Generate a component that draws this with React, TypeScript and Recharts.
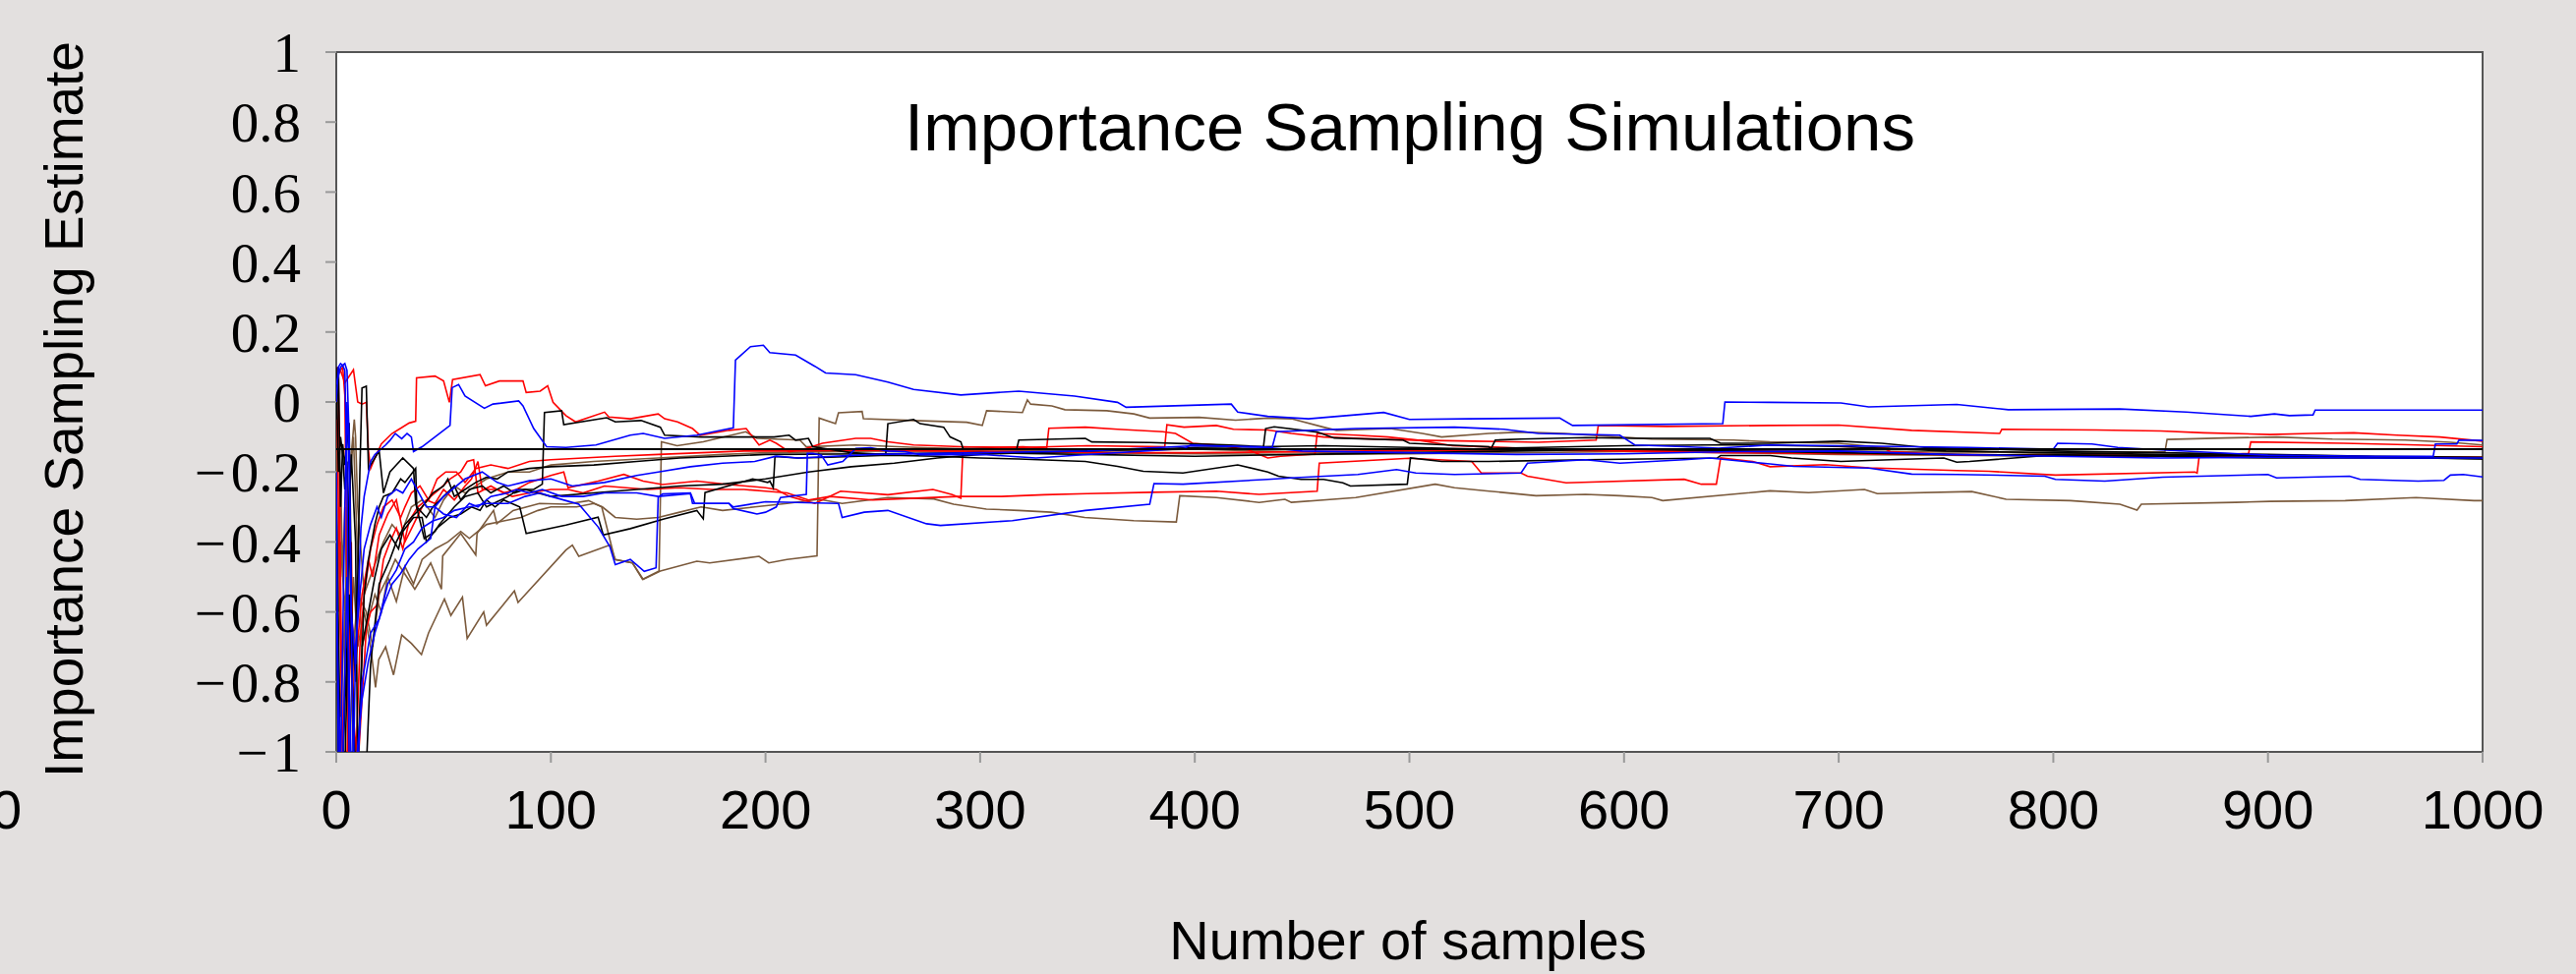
import { LineChart, Line, XAxis, YAxis, ReferenceLine } from 'recharts';

type Pt = [number, number];

const X_TICKS = [0, 100, 200, 300, 400, 500, 600, 700, 800, 900, 1000];
const Y_TICKS = [-1, -0.8, -0.6, -0.4, -0.2, 0, 0.2, 0.4, 0.6, 0.8, 1];
const TRUE_VALUE = -0.135;

const BLUE = '#0000ff';
const RED = '#ff0000';
const BLACK = '#000000';
const BROWN = '#7b5a3c';

// one array per simulation run: [sample count, running estimate]
const blueRun1: Pt[] = [
  [0, 0.05], [2, 0.1], [4, 0.11], [5, 0.09], [6, -0.1], [7, -0.6], [9, -0.75], [11.5, -0.36], [13, -0.27],
  [14.5, -0.22], [16, -0.17], [18, -0.15], [23, -0.123], [25, -0.11], [27.5, -0.09], [30.5, -0.105], [33, -0.09],
  [35, -0.1], [36, -0.142], [40, -0.128], [53, -0.067], [54, 0.041], [57, 0.05], [60, 0.017], [69, -0.018],
  [73, -0.006], [85, 0.003], [87, -0.011], [92, -0.076], [98, -0.128], [107, -0.13], [121, -0.123], [137, -0.095],
  [143, -0.09], [153, -0.104], [168, -0.095], [185, -0.074], [186, 0.12], [193, 0.158], [199, 0.162], [202, 0.141],
  [214, 0.134], [223, 0.102], [228, 0.083], [242, 0.078], [257, 0.057], [269, 0.036], [291, 0.02], [318, 0.031],
  [344, 0.017], [364, -0.001], [368, -0.015], [417, -0.006], [420, -0.029], [434, -0.041], [453, -0.048],
  [480, -0.034], [488, -0.03], [500, -0.05], [527, -0.048], [570, -0.046], [576, -0.067], [646, -0.062],
  [647, 0.0], [668, -0.001], [701, -0.003], [714, -0.014], [755, -0.007], [779, -0.022], [831, -0.02],
  [862, -0.029], [892, -0.041], [903, -0.034], [910, -0.039], [921, -0.037], [922, -0.023], [1000, -0.023],
];

const blueRun2: Pt[] = [
  [0, -0.6], [2, -1.05], [4, -0.3], [5, 0.0], [6, -0.2], [8, -1.05], [10, -1.05], [12, -0.8], [16, -0.66],
  [20, -0.62], [24, -0.52], [28, -0.48], [32, -0.42], [36, -0.4], [40, -0.36], [45, -0.34], [50, -0.33],
  [55, -0.31], [62, -0.3], [70, -0.29], [80, -0.29], [88, -0.27], [95, -0.26], [100, -0.27], [107, -0.282],
  [113, -0.292], [122, -0.357], [127.5, -0.414], [130, -0.465], [137, -0.45], [143.5, -0.484], [149, -0.474],
  [150, -0.273], [152, -0.263], [165, -0.26], [167, -0.29], [183, -0.29], [185, -0.305], [196, -0.32],
  [200, -0.315], [205, -0.3], [207, -0.273], [219, -0.264], [219.5, -0.147], [222, -0.147], [226, -0.152],
  [229, -0.18], [236, -0.17], [242, -0.133], [249, -0.131], [257, -0.14], [265, -0.142], [272, -0.151],
  [303, -0.151], [326, -0.16], [348, -0.151], [395, -0.133], [398, -0.123], [434, -0.13], [436, -0.131],
  [438, -0.085], [475, -0.076], [521, -0.072], [544, -0.078], [560, -0.09], [598, -0.095], [605, -0.123],
  [628, -0.128], [644, -0.132], [668, -0.123], [700, -0.125], [760, -0.13], [800, -0.135], [802, -0.118],
  [818, -0.12], [830, -0.13], [850, -0.137], [900, -0.152], [950, -0.155], [977, -0.155], [978, -0.12],
  [988, -0.12], [989, -0.109], [1000, -0.11],
];

const blueRun3: Pt[] = [
  [0, -0.2], [1, -1.05], [3, -1.05], [5, -0.5], [7, -1.05], [9, -1.05], [12, -0.85], [15, -0.74], [18, -0.66],
  [22, -0.58], [26, -0.52], [30, -0.49], [34, -0.45], [38, -0.42], [44, -0.39], [46, -0.3], [50, -0.32],
  [56, -0.33], [62, -0.29], [66, -0.3], [72, -0.27], [80, -0.26], [84, -0.25], [90, -0.26], [96, -0.25],
  [105, -0.27], [115, -0.27], [125, -0.26], [140, -0.26], [150, -0.27], [165, -0.262], [166, -0.29],
  [183, -0.29], [185, -0.3], [200, -0.285], [234, -0.29], [235.7, -0.33], [246, -0.315], [257, -0.31],
  [275, -0.348], [281.5, -0.353], [315, -0.339], [349, -0.31], [379, -0.292], [381, -0.233], [394.5, -0.235],
  [434, -0.221], [445, -0.217], [476, -0.207], [494, -0.193], [503, -0.203], [521, -0.207], [552, -0.203],
  [555, -0.175], [582, -0.165], [598, -0.175], [628, -0.165], [640, -0.16], [656, -0.17], [668, -0.177],
  [679, -0.184], [714, -0.189], [734, -0.206], [755, -0.207], [796, -0.212], [801, -0.221], [824, -0.226],
  [851, -0.215], [900, -0.207], [904, -0.217], [938, -0.212], [943, -0.221], [970, -0.226], [982, -0.224],
  [985, -0.209], [991, -0.207], [1000, -0.214],
];

const blueRun4: Pt[] = [
  [0, 0.0], [1, 0.1], [2, 0.11], [3, 0.105], [4, 0.09], [5, -0.2], [6, -1.05], [8, -1.05], [9, -0.7],
  [11, -0.55], [13, -0.42], [16, -0.35], [19, -0.3], [21, -0.33], [24, -0.27], [28, -0.25], [31, -0.26],
  [35, -0.22], [42, -0.3], [46, -0.3], [50, -0.27], [60, -0.22], [68, -0.2], [75, -0.23], [80, -0.24],
  [90, -0.225], [100, -0.22], [110, -0.24], [125, -0.23], [140, -0.21], [150, -0.2], [165, -0.185],
  [180, -0.175], [195, -0.17], [205, -0.155], [215, -0.16], [250, -0.15], [300, -0.145], [350, -0.14],
  [400, -0.125], [430, -0.128], [450, -0.14], [500, -0.145], [550, -0.15], [600, -0.148], [650, -0.142],
  [700, -0.14], [750, -0.15], [800, -0.155], [850, -0.16], [900, -0.158], [950, -0.16], [1000, -0.16],
];

const redRun1: Pt[] = [
  [0, 0.08], [2, 0.09], [4, 0.055], [8, 0.092], [10, 0.0], [12, -0.006], [14, -0.001], [15, -0.14],
  [16, -0.19], [18, -0.16], [21, -0.12], [26, -0.09], [30, -0.075], [34, -0.06], [37, -0.055], [37.4, 0.069],
  [46, 0.074], [50, 0.06], [52.7, -0.001], [54.2, 0.064], [67, 0.078], [69.5, 0.046], [76, 0.06], [87, 0.06],
  [88.5, 0.027], [95, 0.031], [98.5, 0.046], [101, -0.001], [107, -0.039], [111.5, -0.057], [125, -0.029],
  [127, -0.043], [137, -0.048], [150, -0.034], [153, -0.048], [159, -0.057], [166, -0.076], [169.5, -0.095],
  [183, -0.081], [191, -0.076], [197, -0.123], [202, -0.109], [205, -0.118], [211, -0.142], [219, -0.133],
  [226.5, -0.118], [242, -0.104], [249, -0.104], [257, -0.114], [269, -0.123], [291, -0.128], [320, -0.13],
  [350, -0.125], [386, -0.128], [387, -0.065], [395, -0.072], [410, -0.067], [418, -0.078], [434, -0.08],
  [445, -0.09], [460, -0.1], [488, -0.107], [510, -0.11], [530, -0.112], [560, -0.115], [587, -0.109],
  [588, -0.067], [620, -0.07], [668, -0.067], [700, -0.066], [734, -0.081], [775, -0.09], [776, -0.078],
  [820, -0.08], [850, -0.083], [870, -0.088], [901, -0.093], [920, -0.09], [940, -0.088], [960, -0.095],
  [980, -0.1], [1000, -0.112],
];

const redRun2: Pt[] = [
  [0, 0.1], [1, -0.3], [3, -1.05], [5, -1.05], [7, -0.6], [9, -0.75], [12, -0.55], [15, -0.45], [17, -0.5],
  [20, -0.38], [24, -0.32], [28, -0.28], [32, -0.4], [36, -0.35], [40, -0.3], [44, -0.27], [48, -0.25],
  [53, -0.22], [58, -0.2], [61, -0.17], [64, -0.165], [66, -0.26], [72, -0.24], [78, -0.26], [84, -0.25],
  [90, -0.23], [100, -0.21], [106, -0.2], [108, -0.245], [122, -0.226], [134, -0.207], [143, -0.226],
  [152, -0.236], [168, -0.226], [183, -0.236], [200, -0.245], [205, -0.25], [211, -0.27], [223, -0.29],
  [235, -0.255], [257, -0.265], [278, -0.25], [287, -0.265], [291, -0.275], [292, -0.128], [305, -0.13],
  [320, -0.128], [331, -0.132], [332, -0.075], [349, -0.072], [364, -0.078], [385, -0.085], [391, -0.09],
  [399, -0.118], [410, -0.123], [425, -0.137], [434, -0.16], [440, -0.155], [456, -0.149], [457, -0.09],
  [475, -0.095], [490, -0.1], [505, -0.11], [520, -0.125], [545, -0.13], [570, -0.138], [600, -0.14],
  [650, -0.145], [700, -0.148], [750, -0.15], [800, -0.152], [850, -0.154], [900, -0.155], [950, -0.157],
  [1000, -0.158],
];

const redRun3: Pt[] = [
  [0, 0.05], [1, 0.1], [2, -0.5], [3, -1.05], [5, -1.05], [7, -0.4], [8, -0.9], [10, -1.05], [12, -0.85],
  [14, -0.65], [16, -0.6], [19, -0.58], [22, -0.45], [25, -0.4], [28, -0.36], [31, -0.42], [34, -0.34],
  [38, -0.3], [42, -0.28], [46, -0.29], [50, -0.25], [55, -0.28], [60, -0.24], [63, -0.22], [66, -0.17],
  [68, -0.25], [75, -0.25], [82, -0.27], [90, -0.26], [100, -0.25], [108, -0.25], [115, -0.26], [125, -0.24],
  [135, -0.245], [145, -0.25], [160, -0.245], [175, -0.25], [190, -0.25], [200, -0.255], [210, -0.26],
  [220, -0.28], [230, -0.27], [250, -0.28], [270, -0.275], [290, -0.27], [310, -0.27], [330, -0.265],
  [350, -0.262], [380, -0.258], [410, -0.255], [430, -0.264], [457, -0.255], [458, -0.175], [500, -0.161],
  [529, -0.17], [533.5, -0.203], [552, -0.203], [555, -0.212], [573, -0.231], [628, -0.221], [636, -0.235],
  [643, -0.235], [645, -0.16], [660, -0.17], [668, -0.185], [694, -0.179], [714, -0.188], [755, -0.196],
  [770, -0.198], [801, -0.209], [866, -0.2], [867, -0.203], [868, -0.153], [891, -0.147], [892, -0.114],
  [935, -0.118], [965, -0.122], [1000, -0.128],
];

const redRun4: Pt[] = [
  [0, 0.0], [1, 0.08], [3, 0.1], [4, 0.02], [5, -0.5], [6, -1.05], [9, -1.05], [11, -0.7], [13, -0.55],
  [16, -0.42], [19, -0.35], [22, -0.3], [26, -0.28], [30, -0.33], [32, -0.3], [35, -0.26], [39, -0.24],
  [43, -0.28], [47, -0.22], [51, -0.2], [56, -0.2], [60, -0.23], [65, -0.19], [72, -0.18], [80, -0.19],
  [90, -0.17], [100, -0.165], [115, -0.16], [130, -0.155], [150, -0.15], [170, -0.145], [190, -0.14],
  [210, -0.14], [240, -0.138], [280, -0.14], [320, -0.142], [360, -0.145], [400, -0.145], [440, -0.143],
  [480, -0.14], [520, -0.138], [560, -0.136], [600, -0.138], [663, -0.137], [721, -0.132], [724, -0.142],
  [755, -0.151], [800, -0.152], [850, -0.154], [900, -0.156], [950, -0.158], [1000, -0.16],
];

const blackRun1: Pt[] = [
  [0, 0.1], [1, -0.2], [2, -0.1], [3, -0.15], [4, -0.25], [5, -0.17], [7, -0.6], [9, -0.8], [11, -0.2],
  [12, 0.04], [14, 0.045], [15, -0.19], [18, -0.16], [20, -0.14], [22, -0.26], [25, -0.2], [28, -0.18],
  [31, -0.16], [36, -0.19], [37, -0.29], [41, -0.39], [46, -0.37], [48, -0.35], [55, -0.3], [60, -0.27],
  [66, -0.26], [70, -0.3], [80, -0.27], [85, -0.25], [92, -0.25], [96, -0.235], [97, -0.03], [105, -0.025],
  [106, -0.065], [126, -0.045], [130, -0.057], [142, -0.053], [151, -0.072], [153, -0.095], [170, -0.1],
  [200, -0.1], [204, -0.1], [211, -0.095], [214, -0.109], [220, -0.104], [222, -0.128], [240, -0.145],
  [256, -0.15], [257, -0.062], [269, -0.05], [272, -0.062], [283, -0.072], [286, -0.1], [291, -0.114],
  [292, -0.133], [317, -0.135], [318, -0.109], [349, -0.104], [352, -0.114], [379, -0.116], [395, -0.119],
  [417, -0.123], [432, -0.128], [433, -0.076], [437, -0.071], [457, -0.086], [465, -0.103], [497, -0.109],
  [500, -0.118], [518, -0.123], [537, -0.128], [538, -0.134], [540, -0.109], [552, -0.106], [582, -0.102],
  [605, -0.104], [640, -0.104], [645, -0.118], [668, -0.118], [700, -0.112], [720, -0.118], [740, -0.13],
  [800, -0.14], [850, -0.145], [900, -0.15], [950, -0.155], [1000, -0.158],
];

const blackRun2: Pt[] = [
  [0, -0.3], [2, -1.05], [4, -1.05], [6, -0.55], [8, -0.9], [9, -1.05], [10, -1.05], [12, -0.7], [15, -0.6],
  [18, -0.5], [21, -0.42], [25, -0.38], [29, -0.42], [31, -0.37], [36, -0.33], [40, -0.33], [42, -0.4],
  [47, -0.36], [53, -0.33], [58, -0.32], [63, -0.3], [67, -0.31], [70, -0.28], [74, -0.3], [78, -0.28],
  [85.5, -0.3], [88.5, -0.376], [107, -0.352], [122, -0.329], [124.4, -0.38], [137, -0.362], [152.7, -0.334],
  [168, -0.31], [171, -0.334], [171.8, -0.259], [194, -0.22], [201, -0.23], [202, -0.226], [203.6, -0.245],
  [204.4, -0.156], [215, -0.16], [230, -0.158], [257, -0.152], [280, -0.155], [300, -0.16], [318, -0.163],
  [349, -0.17], [364, -0.184], [376, -0.198], [394.5, -0.203], [420, -0.18], [434, -0.2], [439, -0.212],
  [449.5, -0.221], [460, -0.221], [469, -0.231], [472.5, -0.24], [499, -0.235], [500.5, -0.16], [515, -0.17],
  [537, -0.17], [582, -0.165], [643.5, -0.16], [645, -0.153], [668, -0.153], [678, -0.16], [701, -0.17],
  [724, -0.165], [749, -0.16], [755, -0.172], [761, -0.17], [801, -0.151], [831, -0.153], [901, -0.151],
  [950, -0.158], [1000, -0.162],
];

const blackRun3: Pt[] = [
  [0, -0.05], [1, 0.1], [2, -0.3], [3, -0.12], [4, -0.18], [5, -0.12], [6, -0.06], [7, -0.5], [8, -1.05],
  [10, -1.05], [11, -0.9], [13, -0.55], [15, -0.45], [18, -0.35], [20, -0.3], [22, -0.27], [26, -0.26],
  [30, -0.22], [32, -0.23], [37, -0.19], [37.5, -0.3], [42, -0.33], [45, -0.3], [50, -0.27], [55, -0.24],
  [58, -0.28], [62, -0.25], [68, -0.24], [72, -0.26], [78, -0.24], [83, -0.26], [88, -0.25], [100, -0.27],
  [120, -0.26], [140, -0.25], [160, -0.24], [180, -0.235], [200, -0.22], [220, -0.2], [240, -0.185],
  [260, -0.175], [280, -0.16], [300, -0.15], [320, -0.145], [350, -0.14], [380, -0.135], [400, -0.13],
  [430, -0.128], [460, -0.125], [500, -0.13], [530, -0.134], [560, -0.13], [600, -0.125], [650, -0.122],
  [700, -0.127], [750, -0.14], [800, -0.145], [850, -0.15], [900, -0.155], [950, -0.158], [1000, -0.163],
];

const blackRun4: Pt[] = [
  [0, -0.4], [1, -1.05], [3, -1.05], [5, -0.7], [6, -0.3], [7, -0.15], [9, -0.4], [10, -1.05], [14, -1.05],
  [16, -0.75], [20, -0.52], [25, -0.45], [28, -0.4], [32, -0.35], [35, -0.33], [40, -0.3], [45, -0.26],
  [50, -0.24], [52, -0.22], [55, -0.27], [60, -0.25], [65, -0.23], [70, -0.215], [75, -0.22], [80, -0.2],
  [90, -0.19], [100, -0.185], [120, -0.18], [140, -0.17], [160, -0.16], [180, -0.155], [200, -0.15],
  [250, -0.148], [300, -0.145], [350, -0.15], [400, -0.155], [450, -0.15], [500, -0.145], [550, -0.14],
  [600, -0.135], [650, -0.14], [700, -0.145], [750, -0.15], [800, -0.152], [850, -0.155], [900, -0.16],
  [950, -0.16], [1000, -0.16],
];

const brownRun1: Pt[] = [
  [0, -0.1], [1, -0.6], [2, -0.2], [3, -0.5], [4, -0.3], [5, -0.6], [6, -0.25], [8, -0.1], [10, -0.45],
  [12, -0.7], [15, -0.62], [18, -0.55], [21, -0.6], [24, -0.5], [27.5, -0.45], [36.6, -0.535], [44, -0.46],
  [49, -0.535], [49.6, -0.44], [58, -0.376], [65, -0.437], [65.6, -0.376], [73.3, -0.31], [74.8, -0.348],
  [82.4, -0.31], [94.7, -0.29], [107, -0.292], [117.6, -0.282], [123.7, -0.3], [129.8, -0.45], [138, -0.46],
  [142.7, -0.507], [150.4, -0.483], [151.5, -0.114], [158.8, -0.125], [171, -0.114], [190.8, -0.085],
  [196, -0.104], [216, -0.109], [219, -0.128], [242, -0.123], [270, -0.13], [300, -0.135], [330, -0.14],
  [360, -0.14], [400, -0.135], [430, -0.14], [470, -0.145], [500, -0.14], [550, -0.138], [600, -0.135],
  [650, -0.14], [700, -0.14], [750, -0.143], [800, -0.145], [852, -0.142], [853, -0.107], [880, -0.103],
  [904, -0.1], [930, -0.106], [964, -0.109], [985, -0.115], [1000, -0.123],
];

const brownRun2: Pt[] = [
  [0, -0.3], [1, -0.8], [2, -0.4], [4, -0.6], [6, -0.3], [7, -0.15], [8.4, -0.05], [9, -0.1], [10, -0.3],
  [13, -0.55], [17, -0.48], [22, -0.4], [26, -0.35], [30, -0.38], [35, -0.3], [40, -0.28], [46, -0.33],
  [50, -0.28], [55, -0.24], [60, -0.26], [70, -0.22], [80, -0.2], [90, -0.2], [100, -0.18], [120, -0.17],
  [150, -0.16], [180, -0.15], [200, -0.145], [250, -0.14], [300, -0.14], [350, -0.145], [400, -0.148],
  [450, -0.15], [500, -0.148], [550, -0.145], [600, -0.142], [650, -0.145], [700, -0.15], [750, -0.152],
  [800, -0.155], [850, -0.155], [900, -0.157], [950, -0.158], [1000, -0.16],
];

const brownRun3: Pt[] = [
  [0, -0.2], [1, -1.05], [3, -1.05], [5, -0.4], [6, -0.8], [8, -0.5], [10, -0.7], [13, -0.6], [16, -0.7],
  [18.3, -0.816], [19.8, -0.736], [23, -0.7], [26.7, -0.78], [30.5, -0.666], [35, -0.69], [39.7, -0.722],
  [43, -0.66], [50.4, -0.563], [53.4, -0.61], [58.8, -0.558], [61, -0.676], [68.7, -0.6], [70, -0.638],
  [83, -0.54], [84.7, -0.573], [107, -0.423], [110, -0.409], [113, -0.441], [127.5, -0.409], [130, -0.45],
  [138, -0.46], [143, -0.507], [151, -0.483], [168, -0.455], [174, -0.46], [197, -0.441], [201.5, -0.46],
  [210, -0.45], [224, -0.44], [225, -0.046], [232.6, -0.062], [234, -0.031], [245, -0.027], [245.6, -0.048],
  [269, -0.053], [293.7, -0.058], [301, -0.067], [303, -0.025], [319.7, -0.03], [322, 0.006], [323.5, -0.006],
  [333.4, -0.011], [339.5, -0.022], [359, -0.025], [371.6, -0.034], [379, -0.046], [402, -0.044], [419, -0.052],
  [434, -0.046], [445, -0.048], [460, -0.072], [466, -0.081], [491, -0.076], [506, -0.09], [515, -0.1],
  [537, -0.09], [552, -0.086], [572, -0.09], [598, -0.1], [613, -0.106], [651, -0.109], [668, -0.114],
  [700, -0.118], [724, -0.132], [770, -0.142], [800, -0.148], [850, -0.152], [900, -0.155], [950, -0.157],
  [1000, -0.158],
];

const brownRun4: Pt[] = [
  [0, -0.5], [2, -0.9], [4, -0.6], [6, -1.05], [8, -0.7], [10, -0.55], [14, -0.6], [17, -0.7], [20, -0.55],
  [24, -0.5], [28, -0.57], [32, -0.47], [36, -0.52], [40, -0.45], [46, -0.42], [52, -0.4], [58, -0.37],
  [62, -0.39], [70, -0.35], [78, -0.34], [86, -0.33], [94, -0.31], [100, -0.3], [112, -0.3], [120, -0.29],
  [124, -0.3], [130, -0.33], [140, -0.335], [150, -0.33], [160, -0.315], [170, -0.3], [180, -0.31],
  [195, -0.3], [210, -0.29], [225, -0.278], [235.7, -0.29], [257, -0.273], [278.4, -0.277], [287.6, -0.292],
  [302.9, -0.306], [318, -0.31], [333, -0.315], [348.7, -0.33], [371.6, -0.339], [391.4, -0.343], [393, -0.268],
  [410, -0.273], [430, -0.287], [442, -0.278], [445, -0.287], [475, -0.273], [512, -0.235], [521, -0.245],
  [536, -0.254], [559, -0.268], [582, -0.264], [598, -0.268], [613, -0.273], [618, -0.282], [668, -0.254],
  [686, -0.259], [712, -0.25], [718, -0.262], [762, -0.256], [778, -0.278], [808, -0.282], [831, -0.292],
  [839, -0.309], [841, -0.292], [885, -0.287], [901, -0.284], [936, -0.282], [969, -0.273], [996, -0.282],
  [1000, -0.282],
];

const runs = [
  { key: 'brown1', color: BROWN, pts: brownRun1 },
  { key: 'brown2', color: BROWN, pts: brownRun2 },
  { key: 'brown3', color: BROWN, pts: brownRun3 },
  { key: 'brown4', color: BROWN, pts: brownRun4 },
  { key: 'red1', color: RED, pts: redRun1 },
  { key: 'red2', color: RED, pts: redRun2 },
  { key: 'red3', color: RED, pts: redRun3 },
  { key: 'red4', color: RED, pts: redRun4 },
  { key: 'black1', color: BLACK, pts: blackRun1 },
  { key: 'black2', color: BLACK, pts: blackRun2 },
  { key: 'black3', color: BLACK, pts: blackRun3 },
  { key: 'black4', color: BLACK, pts: blackRun4 },
  { key: 'blue1', color: BLUE, pts: blueRun1 },
  { key: 'blue2', color: BLUE, pts: blueRun2 },
  { key: 'blue3', color: BLUE, pts: blueRun3 },
  { key: 'blue4', color: BLUE, pts: blueRun4 },
];

const SANS = '"Liberation Sans", Arial, Helvetica, sans-serif';
const SERIF = '"Liberation Serif", "Times New Roman", serif';

const fmtY = (v: number) => {
  const a = Math.abs(v);
  const s = a === 0 || a === 1 ? String(a) : a.toFixed(1);
  return v < 0 ? '\u2212\u200a' + s : s;
};

export default function App() {
  return (
    <div style={{
      position: 'absolute', left: 0, top: 0, width: 2620, height: 991,
      background: '#e3e0df', overflow: 'hidden', fontFamily: SANS,
    }}>
      {/* plot frame */}
      <div style={{
        position: 'absolute', left: 341, top: 52, width: 2185, height: 714,
        boxSizing: 'border-box', background: '#fff', border: '2px solid #555',
      }} />

      <LineChart
        width={2620}
        height={991}
        margin={{ top: 53, right: 95, bottom: 126, left: 242 }}
      >
        <XAxis
          type="number"
          dataKey="n"
          domain={[0, 1000]}
          ticks={X_TICKS}
          allowDataOverflow
          height={100}
          axisLine={false}
          tickSize={11}
          tickMargin={27}
          tickLine={{ stroke: '#999', strokeWidth: 2 }}
          tick={{ fill: '#000', fontSize: 56, fontFamily: SANS }}
        />
        <YAxis
          type="number"
          domain={[-1, 1]}
          ticks={Y_TICKS}
          allowDataOverflow
          width={100}
          axisLine={false}
          tickSize={11}
          tickMargin={25}
          tickLine={{ stroke: '#999', strokeWidth: 2 }}
          tickFormatter={fmtY}
          tick={{ fill: '#000', fontSize: 57, fontFamily: SERIF }}
        />
        {runs.map((r) => (
          <Line
            key={r.key}
            data={r.pts.map(([n, v]) => ({ n, v }))}
            dataKey="v"
            type="linear"
            stroke={r.color}
            strokeWidth={1.6}
            dot={false}
            activeDot={false}
            isAnimationActive={false}
          />
        ))}
        <ReferenceLine y={TRUE_VALUE} stroke="#000" strokeWidth={2} />
      </LineChart>

      <div style={{
        position: 'absolute', left: 1434, top: 95, transform: 'translateX(-50%)',
        fontSize: 69, lineHeight: '69px', whiteSpace: 'nowrap', color: '#000',
      }}>
        Importance Sampling Simulations
      </div>

      <div style={{
        position: 'absolute', left: 1432, top: 929, transform: 'translateX(-50%)',
        fontSize: 56, lineHeight: '56px', whiteSpace: 'nowrap', color: '#000',
      }}>
        Number of samples
      </div>

      <div style={{
        position: 'absolute', left: 65 - 450, top: 416 - 27.5, width: 900, height: 55,
        fontSize: 55, lineHeight: '55px', textAlign: 'center', whiteSpace: 'nowrap',
        transform: 'rotate(-90deg)', color: '#000',
      }}>
        Importance Sampling Estimate
      </div>

      <div style={{
        position: 'absolute', left: -9, top: 796, fontSize: 56, lineHeight: '56px', color: '#000',
      }}>
        0
      </div>
    </div>
  );
}
